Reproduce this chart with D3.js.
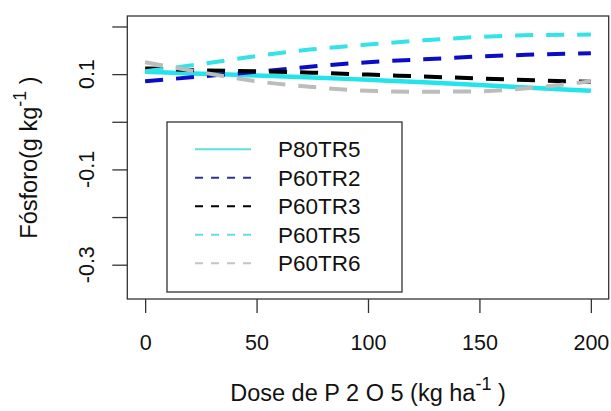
<!DOCTYPE html>
<html>
<head>
<meta charset="utf-8">
<script src="https://cdn.jsdelivr.net/npm/d3@7"></script>
<style>
  body { margin: 0; background: #fff; }
  text { font-family: "Liberation Sans", Arial, sans-serif; fill: #111; }
</style>
</head>
<body>
<div id="chart"></div>
<script>
// dose of P2O5 (kg/ha) where the curves were read
var doses = [0, 25, 50, 75, 100, 125, 150, 175, 200];

// fosforo (g/kg) per treatment
var p80tr5 = [0.105, 0.101, 0.097, 0.093, 0.088, 0.083, 0.077, 0.071, 0.065];
var p60tr2 = [0.085, 0.095, 0.105, 0.116, 0.125, 0.131, 0.137, 0.141, 0.144];
var p60tr3 = [0.112, 0.108, 0.106, 0.103, 0.099, 0.095, 0.091, 0.087, 0.084];
var p60tr5 = [0.106, 0.121, 0.138, 0.152, 0.162, 0.171, 0.178, 0.182, 0.183];
var p60tr6 = [0.125, 0.104, 0.085, 0.073, 0.065, 0.063, 0.064, 0.072, 0.085];

var seriesNames = ["P80TR5", "P60TR2", "P60TR3", "P60TR5", "P60TR6"];
var seriesValues = [p80tr5, p60tr2, p60tr3, p60tr5, p60tr6];

var xTicks = [0, 50, 100, 150, 200];
var yTicks = [0.2, 0.1, 0, -0.1, -0.2, -0.3];
var yTickLabels = ["0.1", "-0.1", "-0.3"];

var styles = [
  {color: "#22e4ea", legend: "#5fdede", dash: null, w: 4.5},
  {color: "#0c0cc8", legend: "#30309a", dash: "18,13", w: 4},
  {color: "#000000", legend: "#000000", dash: "18,13", w: 4},
  {color: "#35e2e8", legend: "#62dede", dash: "18,13", w: 4},
  {color: "#bcbcbc", legend: "#c4c4c4", dash: "18,13", w: 4}
];

var width = 611, height = 411;
var margin = {top: 16, right: 2.3, bottom: 112, left: 127.3};

var svg = d3.select("#chart").append("svg")
    .attr("width", width)
    .attr("height", height);

var x = d3.scaleLinear().domain([-8, 208]).range([margin.left, width - margin.right]);
var y = d3.scaleLinear().domain([-0.372, 0.222]).range([height - margin.bottom, margin.top]);

// curves
var line = d3.line()
    .x(function(d) { return x(d[0]); })
    .y(function(d) { return y(d[1]); })
    .curve(d3.curveMonotoneX);

seriesValues.forEach(function(vals, i) {
  svg.append("path")
      .datum(doses.map(function(d, j) { return [d, vals[j]]; }))
      .attr("fill", "none")
      .attr("stroke", styles[i].color)
      .attr("stroke-width", styles[i].w)
      .attr("stroke-dasharray", styles[i].dash)
      .attr("d", line);
});

// box
svg.append("rect")
    .attr("x", margin.left)
    .attr("y", margin.top)
    .attr("width", width - margin.left - margin.right)
    .attr("height", height - margin.top - margin.bottom)
    .attr("fill", "none")
    .attr("stroke", "#333")
    .attr("stroke-width", 1.3);

// x axis
var xAxis = svg.append("g")
    .attr("transform", "translate(0," + (height - margin.bottom) + ")")
    .call(d3.axisBottom(x).tickValues(xTicks).tickSize(14).tickPadding(22).tickFormat(d3.format("d")));
xAxis.select(".domain").remove();
xAxis.selectAll("line").attr("stroke", "#333").attr("stroke-width", 1.3);
xAxis.selectAll("text")
    .attr("font-size", 21.5)
    .attr("font-family", "Liberation Sans, Arial, sans-serif")
    .attr("fill", "#111");

// y axis
var yAxis = svg.append("g")
    .attr("transform", "translate(" + margin.left + ",0)")
    .call(d3.axisLeft(y).tickValues(yTicks).tickSize(15).tickFormat(""));
yAxis.select(".domain").remove();
yAxis.selectAll("line").attr("stroke", "#333").attr("stroke-width", 1.3);

svg.selectAll(".ylab")
    .data(yTickLabels)
    .enter().append("text")
    .attr("class", "ylab")
    .attr("transform", function(d) { return "translate(94," + y(+d) + ") rotate(-90)"; })
    .attr("text-anchor", "middle")
    .attr("font-size", 21.5)
    .text(function(d) { return d; });

// axis titles
var xt = svg.append("text")
    .attr("x", (margin.left + width - margin.right) / 2)
    .attr("y", 401)
    .attr("text-anchor", "middle")
    .attr("font-size", 23.5);
xt.append("tspan").text("Dose de P 2 O 5 (kg ha");
xt.append("tspan").attr("dy", -11).attr("font-size", 18).text("-1");
xt.append("tspan").attr("dy", 11).text(" )");

var yt = svg.append("text")
    .attr("transform", "translate(37," + ((margin.top + height - margin.bottom) / 2) + ") rotate(-90)")
    .attr("text-anchor", "middle")
    .attr("font-size", 23.5);
yt.append("tspan").text("Fósforo(g kg");
yt.append("tspan").attr("dy", -11).attr("font-size", 18).text("-1");
yt.append("tspan").attr("dy", 11).text(" )");

// legend
var lg = svg.append("g");
lg.append("rect")
    .attr("x", 167).attr("y", 122)
    .attr("width", 235).attr("height", 170)
    .attr("fill", "#fff")
    .attr("stroke", "#333")
    .attr("stroke-width", 1.3);

seriesNames.forEach(function(name, i) {
  var cy = 149.3 + i * 28.5;
  lg.append("line")
      .attr("x1", 195).attr("x2", 251)
      .attr("y1", cy).attr("y2", cy)
      .attr("stroke", styles[i].legend)
      .attr("stroke-width", 2)
      .attr("stroke-dasharray", styles[i].dash ? "8,8" : null);
  lg.append("text")
      .attr("x", 278)
      .attr("y", cy + 8)
      .attr("font-size", 22.5)
      .text(name);
});
</script>
</body>
</html>
